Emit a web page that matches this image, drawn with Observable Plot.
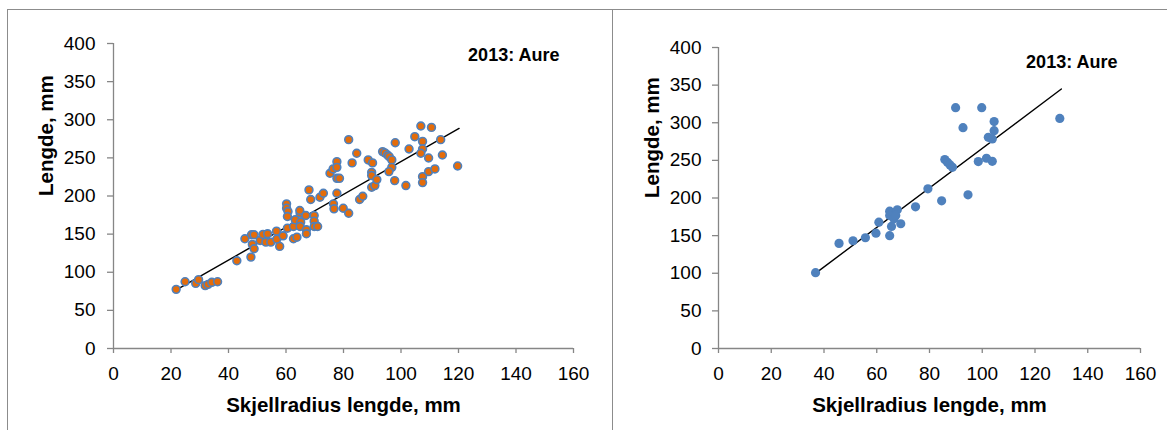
<!DOCTYPE html>
<html><head><meta charset="utf-8">
<script src="https://cdn.jsdelivr.net/npm/d3@7"></script>
<script src="https://cdn.jsdelivr.net/npm/@observablehq/plot@0.6"></script>
<style>
html,body{margin:0;padding:0;background:#fff;}
#wrap{position:relative;width:1167px;height:430px;overflow:hidden;background:#fff;font-family:"Liberation Sans",Arial,sans-serif;}
#p1{position:absolute;left:0;top:0;width:590px;height:430px;}
#p2{position:absolute;left:590px;top:0;width:577px;height:430px;}
.frame{position:absolute;border-top:1px solid #8c8c8c;border-left:1px solid #8c8c8c;pointer-events:none;}
</style></head><body>
<div id="wrap">
  <div id="p1"></div>
  <div id="p2"></div>
  <div class="frame" style="left:7px;top:9px;width:1200px;height:440px"></div>
  <div class="frame" style="left:612px;top:9px;width:600px;height:440px"></div>
</div>
<script>
// ---- data ----
const xTicks = [0, 20, 40, 60, 80, 100, 120, 140, 160];
const yTicks = [0, 50, 100, 150, 200, 250, 300, 350, 400];
const panelTitle = "2013: Aure";
const xLabel = "Skjellradius lengde, mm";
const yLabel = "Lengde, mm";

const leftX = [21.8,24.9,28.6,29.6,31.9,32.9,34.2,36.2,42.9,45.7,
  47.8,48.0,48.9,48.3,48.9,51.0,52.0,53.0,53.6,54.7,
  56.7,56.8,57.8,59.0,60.2,60.2,60.7,60.5,60.5,62.6,
  63.8,62.6,63.2,64.9,64.8,65.1,64.9,66.9,67.1,67.1,
  68.0,68.6,69.8,69.8,69.8,71.0,71.8,73.0,75.3,76.4,
  76.5,76.7,77.7,77.7,77.7,78.6,77.7,79.9,81.8,81.8,
  83.0,84.6,85.6,86.7,88.6,90.1,89.8,89.8,89.8,90.9,
  91.6,93.6,94.4,95.3,95.9,96.8,96.8,95.8,98.0,97.8,
  101.7,102.8,104.8,106.9,107.5,107.5,106.9,107.5,107.5,109.6,
  109.6,110.6,111.8,113.8,114.4,119.7];
const leftY = [77.6,87.6,85.4,90.3,82.4,84.1,86.8,87.6,115.1,143.9,
  119.9,149.2,149.2,136.5,130.8,141.7,149.6,139.5,150.5,139.5,
  153.9,143.4,133.9,147.8,189.7,184,179.7,173.1,157.8,143.9,
  146,160,168.8,177.4,181,165.7,160,174.4,155.7,150.5,
  208,195.4,174.4,167,160,160,198.4,203.6,229.8,235.5,
  189.7,183.2,245,237.6,223.2,223.2,203.6,184,177.4,273.9,
  243.4,256,195.4,199.7,247.3,243.4,231,226.8,211.5,213.7,
  221.5,258.2,256.5,253.8,251.6,247.3,237.6,232,269.9,220.2,
  213.7,261.7,277.8,291.8,271.6,261.7,256,225.4,217.6,249.9,
  232,290,235.5,273.9,253.8,239.4];
const leftTrendX = [21.7, 120.2];
const leftTrendY = [76.5, 288.7];

const rightX = [36.8,45.7,51.0,55.7,59.7,60.8,64.9,64.9,64.9,65.6,
  66.5,67.8,69.1,67.2,74.7,79.4,84.6,85.8,86.8,87.8,
  88.7,89.9,92.7,94.6,98.5,99.8,101.6,102.3,103.8,103.8,
  104.5,104.5,129.4];
const rightY = [100.8,139.7,143.2,147.2,153.3,167.9,149.9,182.5,176.8,162.2,
  172.4,184.3,165.8,176.8,188.3,212.2,196.3,251.1,247.5,244,
  240.8,320,293.5,204.2,248.4,320,252.8,280.6,278.5,248.8,
  289.5,301.5,305.8];
const rightTrendX = [37.0, 130.0];
const rightTrendY = [100.5, 344.8];

const axisColor = "#868686";
const font = "'Liberation Sans', Arial, sans-serif";

function chart(o) {
  const pts = o.xs.map((x, i) => ({x, y: o.ys[i]}));
  const trend = o.tx.map((x, i) => ({x, y: o.ty[i]}));
  return Plot.plot({
    width: o.width, height: 430,
    marginLeft: o.ml, marginRight: o.mr, marginTop: o.mt, marginBottom: o.mb,
    style: {fontFamily: font, fontSize: "19px", color: "#000", background: "transparent", overflow: "visible"},
    x: {domain: [0, 160]},
    y: {domain: [0, 400]},
    marks: [
      Plot.axisX({ticks: xTicks, tickSize: 5, tickPadding: 13, stroke: axisColor, strokeWidth: 1.3, fill: "#000", label: null}),
      Plot.axisY({ticks: yTicks, tickSize: 6, tickPadding: o.typad, stroke: axisColor, strokeWidth: 1.3, fill: "#000", label: null}),
      Plot.ruleY([0], {stroke: axisColor, strokeWidth: 1.3}),
      Plot.ruleX([0], {stroke: axisColor, strokeWidth: 1.3}),
      Plot.line(trend, {x: "x", y: "y", stroke: "#000", strokeWidth: 1.4}),
      Plot.dot(pts, {x: "x", y: "y", r: o.r, fill: o.fill, stroke: o.stroke, strokeWidth: o.sw}),
      Plot.text([panelTitle], {text: d => d, frameAnchor: "top-right", textAnchor: "end", lineAnchor: "middle", dx: o.tdx, dy: o.tdy, fontWeight: "bold", fontSize: 18, fill: "#000"}),
      Plot.text([xLabel], {text: d => d, frameAnchor: "bottom", lineAnchor: "middle", dy: 57, fontWeight: "bold", fontSize: 20.5, fill: "#000"}),
      Plot.text([yLabel], {text: d => d, frameAnchor: "left", lineAnchor: "middle", rotate: -90, dx: o.ydx, fontWeight: "bold", fontSize: 20.5, fill: "#000"})
    ]
  });
}

document.getElementById("p1").appendChild(chart({
  xs: leftX, ys: leftY, tx: leftTrendX, ty: leftTrendY,
  width: 590, ml: 113, mr: 17, mt: 43, mb: 82, typad: 12,
  r: 3.9, fill: "#E46C0A", stroke: "#4F81BD", sw: 1.6,
  tdx: -14, tdy: 12, ydx: -67
}));
document.getElementById("p2").appendChild(chart({
  xs: rightX, ys: rightY, tx: rightTrendX, ty: rightTrendY,
  width: 577, ml: 128, mr: 27, mt: 47, mb: 82, typad: 11,
  r: 4.6, fill: "#4F81BD", stroke: "none", sw: 0,
  tdx: -23, tdy: 15, ydx: -66
}));
</script>
</body></html>
